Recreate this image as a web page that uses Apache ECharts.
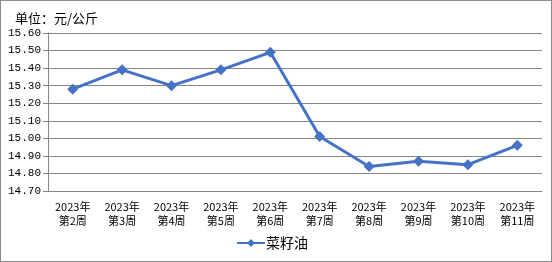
<!DOCTYPE html>
<html><head><meta charset="utf-8">
<script src="https://cdn.jsdelivr.net/npm/echarts@6/dist/echarts.min.js"></script>
<style>html,body{margin:0;padding:0;background:#fff}#c{width:550px;height:260px;border:1px solid #8c8c8c}</style>
</head><body><div id="c"></div>
<script>
const categories = ['2023年\n第2周','2023年\n第3周','2023年\n第4周','2023年\n第5周','2023年\n第6周','2023年\n第7周','2023年\n第8周','2023年\n第9周','2023年\n第10周','2023年\n第11周'];
const seriesName = '菜籽油';
const values = [15.28, 15.39, 15.30, 15.39, 15.49, 15.01, 14.84, 14.87, 14.85, 14.96];
const yMin = 14.7, yMax = 15.6, yStep = 0.1;
const font = '"Noto Sans CJK SC", sans-serif';
const chart = echarts.init(document.getElementById('c'));
chart.setOption({
  animation: false,
  title: {text: '单位：元/公斤', left: 9, top: 6, textStyle: {fontSize: 13, fontWeight: 'normal', color: '#000', fontFamily: font}},
  grid: {left: 47, right: 9, top: 32, bottom: 70},
  legend: {bottom: 6, left: 230, itemWidth: 28, itemHeight: 10, itemGap: 0, textStyle: {fontSize: 14, color: '#000', fontFamily: font, padding: [0, 0, 0, -4]}, data: [seriesName]},
  xAxis: {type: 'category', data: categories, boundaryGap: true,
    axisLine: {lineStyle: {color: '#868686'}},
    axisTick: {lineStyle: {color: '#868686'}, length: 5},
    axisLabel: {fontSize: 11, color: '#000', fontFamily: font, lineHeight: 14, interval: 0, margin: 9}},
  yAxis: {type: 'value', min: yMin, max: yMax, interval: yStep,
    axisLine: {show: true, lineStyle: {color: '#868686'}},
    axisTick: {show: true, length: 5, lineStyle: {color: '#868686'}},
    splitLine: {lineStyle: {color: '#868686'}},
    axisLabel: {fontSize: 11, color: '#000', fontFamily: '"Liberation Mono", monospace', margin: 7, formatter: v => v.toFixed(2)}},
  series: [{name: seriesName, type: 'line', data: values, symbol: 'diamond', symbolSize: 11,
    lineStyle: {color: '#4472C4', width: 3}, itemStyle: {color: '#4472C4'}}]
});
</script></body></html>
